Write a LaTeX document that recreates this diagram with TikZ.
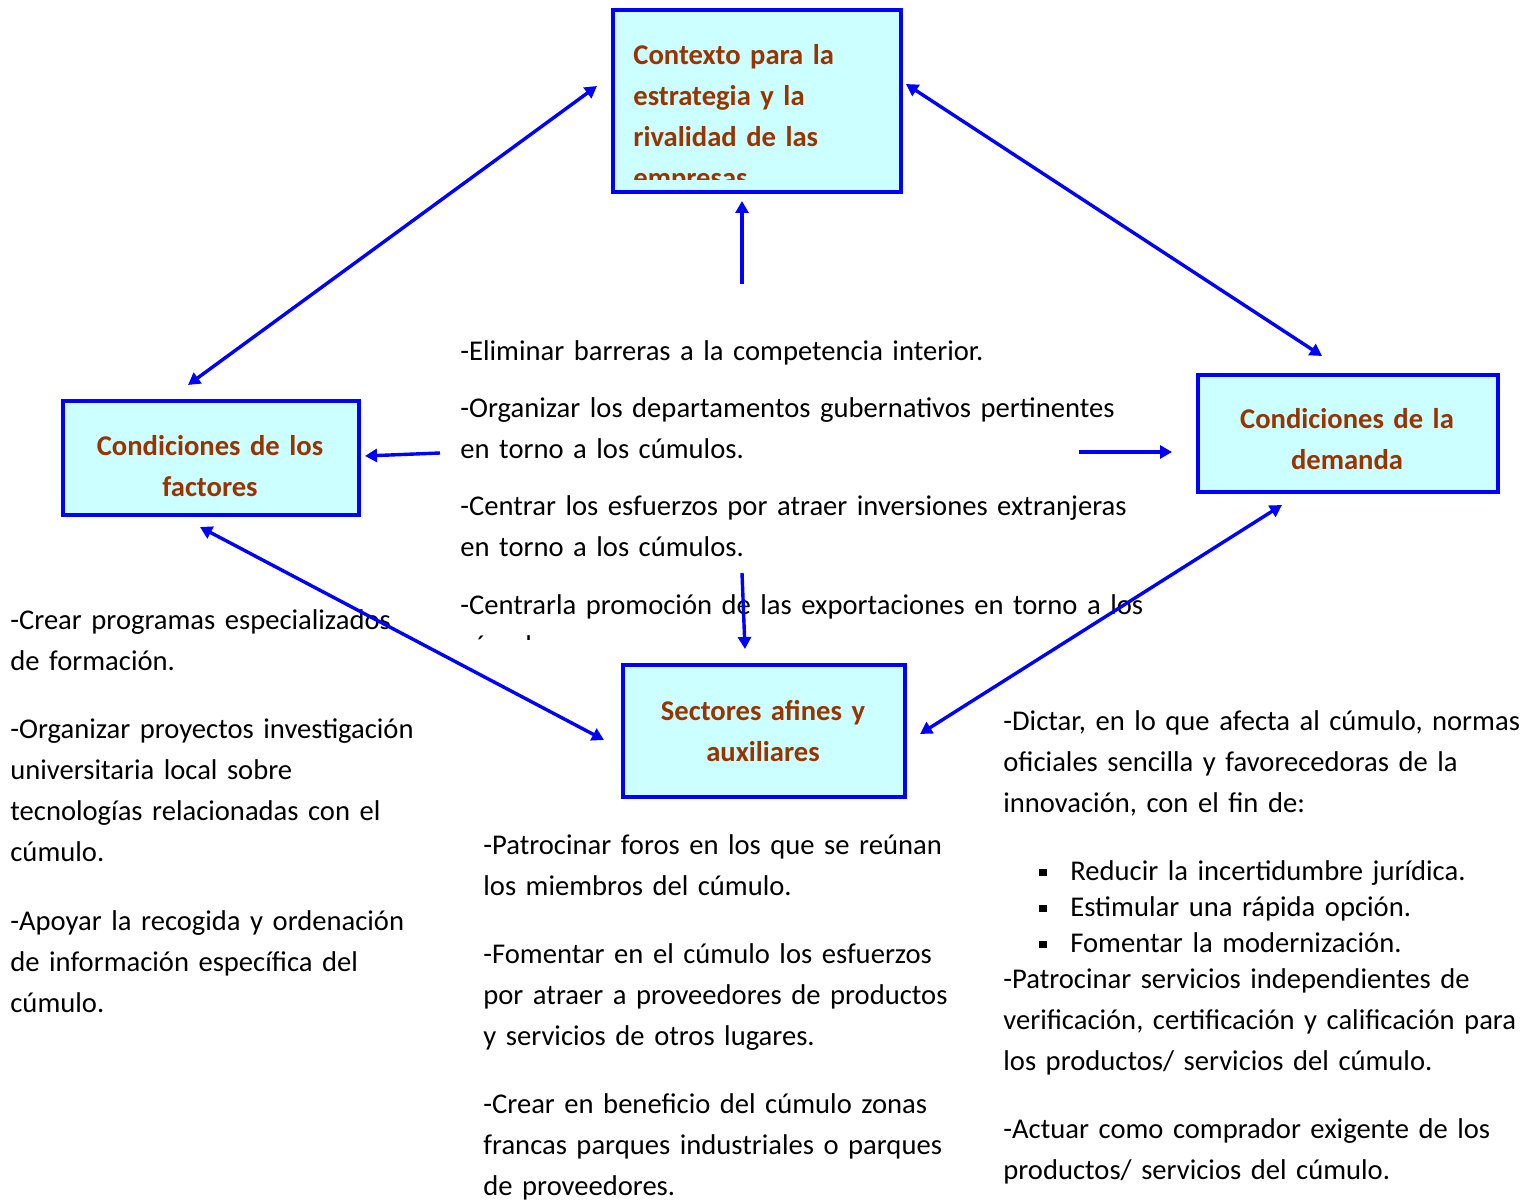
\documentclass[tikz,border=0pt]{standalone}
\usepackage{fontspec}
\setmainfont{Carlito}
\usetikzlibrary{arrows.meta}
\definecolor{frameblue}{HTML}{0000FF}
\definecolor{boxfill}{HTML}{CCFFFF}
\definecolor{titlebrown}{HTML}{993300}

\begin{document}
\begin{tikzpicture}[x=0.5pt,y=-0.5pt,
  box/.style={draw=frameblue, line width=2pt, fill=boxfill, rectangle, inner sep=0pt, anchor=north west},
  title/.style={font=\fontsize{14.3}{20.5}\selectfont\bfseries, text=titlebrown, inner sep=0pt},
  body/.style={font=\fontsize{14.3}{20.5}\selectfont, inner sep=0pt, anchor=base west, text width=280pt, align=left},
  tip/.tip={Triangle[length=6pt,width=6.5pt]},
  link/.style={draw=frameblue, line width=1.7pt, -tip},
  both/.style={draw=frameblue, line width=1.7pt, tip-tip},
  bullet/.style={}]

\useasboundingbox (0,0) rectangle (1533,1202);

% --- the four boxes ---
\node[box, minimum width=144pt, minimum height=91pt] (ctx) at (611,8) {};
\node[box, minimum width=148pt, minimum height=57pt] (fac) at (61,399) {};
\node[box, minimum width=150pt, minimum height=58.5pt] (dem) at (1196,373) {};
\node[box, minimum width=141pt, minimum height=66pt] (sec) at (621,663) {};

% box titles
\begin{scope}
  \clip (613,12) rectangle (899,180);
  \node[title, anchor=base west, text width=135pt, align=left] (ctxt) at (633,65)
    {Contexto para la\\estrategia y la\\rivalidad de las\\empresas};
\end{scope}
\node[title, anchor=base, text width=145pt, align=center] (fact) at (210,456)
  {Condiciones de los\\factores};
\node[title, anchor=base, text width=145pt, align=center] (demt) at (1347,429)
  {Condiciones de la\\demanda};
\node[title, anchor=base, text width=140pt, align=center] (sect) at (763,721)
  {Sectores afines y\\auxiliares};

% --- central measures ---
\begin{scope}
  \clip (440,300) rectangle (1200,640);
  \node[body, text width=360pt] (m1) at (460,361) {-Eliminar barreras a la competencia interior.};
  \node[body, text width=360pt] (m2) at (460,418) {-Organizar los departamentos gubernativos pertinentes\\en torno a los cúmulos.};
  \node[body, text width=360pt] (m3) at (460,516) {-Centrar los esfuerzos por atraer inversiones extranjeras\\en torno a los cúmulos.};
  \node[body, text width=360pt] (m4) at (460,615) {-Centrarla promoción de las exportaciones en torno a los\\cúmulos.};
\end{scope}

% --- factor conditions ---
\node[body] (f1) at (10,630) {-Crear programas especializados\\de formación.};
\node[body] (f2) at (10,739) {-Organizar proyectos investigación\\universitaria local sobre\\tecnologías relacionadas con el\\cúmulo.};
\node[body] (f3) at (10,931) {-Apoyar la recogida y ordenación\\de información específica del\\cúmulo.};

% --- related and supporting sectors ---
\node[body] (s1) at (483,855) {-Patrocinar foros en los que se reúnan\\los miembros del cúmulo.};
\node[body] (s2) at (483,964) {-Fomentar en el cúmulo los esfuerzos\\por atraer a proveedores de productos\\y servicios de otros lugares.};
\node[body] (s3) at (483,1114) {-Crear en beneficio del cúmulo zonas\\francas parques industriales o parques\\de proveedores.};

% --- demand conditions ---
\newcommand{\sqbullet}{\makebox[15.5pt][l]{\rule[2.6pt]{3.6pt}{3.6pt}}}
\node[body] (d1) at (1003,731) {-Dictar, en lo que afecta al cúmulo, normas\\oficiales sencilla y favorecedoras de la\\innovación, con el fin de:};
\node[body, font=\fontsize{14.3}{18}\selectfont] (d2) at (1039,881)
  {\sqbullet Reducir la incertidumbre jurídica.\\
   \sqbullet Estimular una rápida opción.\\
   \sqbullet Fomentar la modernización.};
\node[body] (d3) at (1003,989) {-Patrocinar servicios independientes de\\verificación, certificación y calificación para\\los productos/ servicios del cúmulo.};
\node[body] (d4) at (1003,1139) {-Actuar como comprador exigente de los\\productos/ servicios del cúmulo.};

% --- arrow end points ---
\coordinate (ctxW) at (597,86);
\coordinate (ctxE) at (906,84);
\coordinate (ctxS) at (742,201);
\coordinate (facN) at (188,385);
\coordinate (facE) at (365,456);
\coordinate (facS) at (200,527);
\coordinate (demN) at (1322,356);
\coordinate (demW) at (1172,452);
\coordinate (demS) at (1282,505);
\coordinate (secN) at (745,649);
\coordinate (secW) at (604,740);
\coordinate (secE) at (920,734);
\coordinate (midN) at (742,284);
\coordinate (midW) at (440,453);
\coordinate (midE) at (1079,452);
\coordinate (midS) at (742,573);

% --- connectors ---
\draw[both] (ctxW) -- (facN);
\draw[both] (ctxE) -- (demN);
\draw[both] (facS) -- (secW);
\draw[both] (demS) -- (secE);
\draw[link] (midN) -- (ctxS);
\draw[link] (midW) -- (facE);
\draw[link] (midE) -- (demW);
\draw[link] (midS) -- (secN);
\end{tikzpicture}
\end{document}
